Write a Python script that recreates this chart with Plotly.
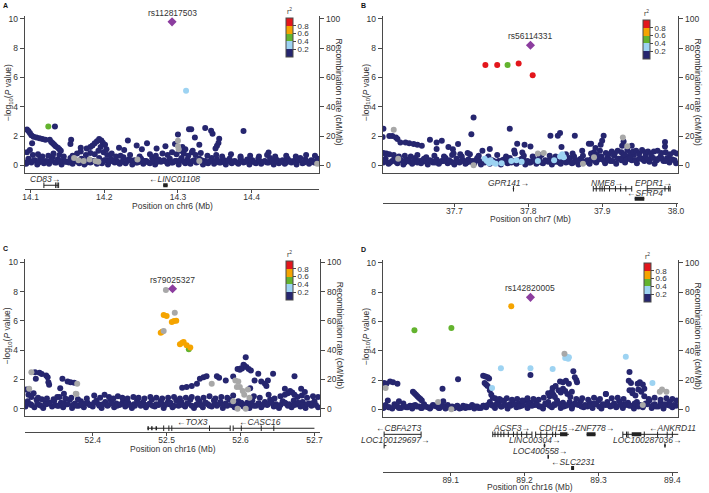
import plotly.graph_objects as go

W, H = 709, 493
FONT = "Liberation Sans, Arial, sans-serif"
INK = "#333333"
AXIS = "#4a4a4a"

NAVY, LBLUE, GREEN, ORANGE, RED = "#26266f", "#9dd3f2", "#63b32e", "#f5a400", "#e3161c"
PURPLE, GREY = "#8c3d9f", "#a8a8a8"

# ---------------- panel A : chr6 (positions in kb, values are -log10 P) ----------------
a_region = [14092, 14492]
a_ticks = [14.1, 14.2, 14.3, 14.4]
a_lead = ("rs112817503", 14292, 9.8)
a_band_kb = [14094, 14097, 14101, 14106, 14109, 14113, 14118, 14121, 14125, 14130, 14133, 14137,
             14142, 14145, 14149, 14154, 14157, 14161, 14166, 14169, 14173, 14178, 14181, 14185,
             14190, 14193, 14197, 14202, 14205, 14209, 14214, 14217, 14221, 14226, 14229, 14233,
             14238, 14241, 14245, 14250, 14253, 14257, 14262, 14265, 14269, 14274, 14277, 14281,
             14286, 14289, 14293, 14298, 14301, 14305, 14310, 14313, 14317, 14322, 14325, 14329,
             14334, 14337, 14341, 14346, 14349, 14353, 14358, 14361, 14365, 14370, 14373, 14377,
             14382, 14385, 14389, 14394, 14397, 14401, 14406, 14409, 14413, 14418, 14421, 14425,
             14430, 14433, 14437, 14442, 14445, 14449, 14454, 14457, 14461, 14466, 14469, 14473,
             14478, 14481, 14485, 14490]
a_band_p = [.1, .45, .2, .35, .05, .5, .15, .3, .1, .55, .2, .4, .05, .35, .25, .5, .1, .3, .15, .45,
            .05, .4, .2, .3, .1, .5, .15, .35, .05, .45, .2, .3, .1, .55, .15, .4, .05, .35, .2, .45,
            .1, .3, .15, .5, .05, .4, .25, .35, .1, .45, .2, .3, .05, .5, .15, .4, .1, .35, .2, .45,
            .05, .3, .15, .5, .1, .4, .2, .35, .05, .45, .15, .3, .1, .5, .2, .4, .05, .35, .15, .45,
            .1, .3, .2, .5, .05, .4, .15, .35, .1, .45, .2, .3, .05, .5, .15, .4, .1, .35, .2, .45]
a_fill_kb = [14096, 14103, 14111, 14116, 14123, 14128, 14135, 14140, 14147, 14152, 14159, 14164,
             14171, 14176, 14183, 14188, 14195, 14200, 14207, 14212, 14219, 14224, 14231, 14236,
             14243, 14248, 14255, 14260, 14267, 14272, 14279, 14284, 14291, 14296, 14303, 14308,
             14315, 14320, 14327, 14332, 14339, 14344, 14351, 14356, 14363, 14368, 14375, 14380,
             14387, 14392, 14399, 14404, 14411, 14416, 14423, 14428, 14435, 14440, 14447, 14452,
             14459, 14464, 14471, 14476, 14483, 14488]
a_fill_p = [.25, .3, .2, .3, .25, .35, .2, .3, .25, .2, .3, .25, .35, .2, .25, .3, .2, .35, .25, .3,
            .2, .25, .3, .35, .2, .25, .3, .2, .35, .25, .3, .25, .2, .3, .35, .25, .2, .3, .25, .35,
            .2, .3, .25, .2, .35, .3, .25, .2, .3, .25, .35, .2, .3, .25, .2, .3, .35, .25, .2, .3,
            .25, .35, .2, .25, .3, .2]
a_mid_kb = [14095, 14099, 14103, 14110, 14116, 14124, 14131, 14139, 14145, 14157, 14163, 14168,
            14175, 14181, 14187, 14192, 14199, 14204, 14210, 14216, 14222, 14235, 14248, 14262,
            14270, 14279, 14286, 14292, 14298, 14303, 14308, 14314, 14319, 14324, 14331, 14340,
            14352, 14360, 14372, 14385, 14398, 14410, 14421, 14432, 14447, 14460, 14474, 14486]
a_mid_p = [0.9, 1.05, 0.7, 0.75, 0.6, 0.65, 0.8, 0.7, 0.6, 0.65, 0.8, 0.95, 0.7, 0.85, 0.75, 1.0,
           0.9, 0.7, 0.8, 0.6, 0.65, 0.7, 0.6, 0.75, 0.65, 0.8, 0.7, 0.9, 0.75, 1.0, 0.8, 0.65,
           0.9, 0.7, 0.85, 0.65, 0.7, 0.6, 0.75, 0.6, 0.65, 0.6, 0.7, 0.6, 0.65, 0.6, 0.7, 0.65]
a_hi_kb = [14095, 14097, 14099, 14101, 14104, 14108, 14112, 14116, 14120, 14102, 14133, 14126,
           14128, 14130, 14132, 14134, 14137, 14139, 14141, 14155, 14154, 14168, 14176, 14181,
           14184, 14187, 14190, 14193, 14196, 14198, 14201, 14195, 14203, 14220, 14227, 14232,
           14244, 14251, 14258, 14271, 14283, 14300, 14315, 14318, 14323, 14329, 14337, 14345,
           14347, 14356, 14355, 14353, 14351, 14310, 14306, 14320, 14389, 14423, 14296]
a_hi_p = [2.45, 2.35, 2.2, 2.05, 1.95, 1.9, 1.85, 1.8, 1.75, 1.5, 2.65, 1.75, 1.6, 1.5, 1.4, 1.3,
          1.2, 1.1, 1.0, 1.75, 1.45, 1.2, 1.15, 1.25, 1.35, 1.5, 1.65, 1.8, 1.7, 1.55, 1.4, 1.25,
          1.1, 1.2, 1.05, 1.7, 1.35, 1.1, 1.5, 1.15, 1.3, 2.1, 2.47, 2.47, 1.9, 1.4, 2.55, 2.36,
          2.16, 1.81, 1.52, 1.34, 1.15, 1.1, 1.25, 1.0, 2.35, 0.88, 1.45]
a_lb_kb, a_lb_p = [14311], [5.1]
a_gr_kb, a_gr_p = [14124], [2.65]
a_grey_kb = [14300, 14300, 14301, 14159, 14165, 14172, 14180, 14188, 14192, 14245, 14329, 14489]
a_grey_p = [1.68, 1.3, 1.1, 0.5, 0.35, 0.3, 0.4, 0.3, 0.25, 0.4, 0.3, 0.1]
# genes: label, row, start, end, exon ticks, exon blocks, label position
a_genes = [("CD83→", 0, 14118, 14138, [14118, 14134, 14136, 14138], [], 14119),
           ("←LINC01108", 0, 14280, 14286, [], [(14280, 14286)], 14295)]

# ---------------- panel B : chr7 ----------------
b_region = [37603, 38003]
b_ticks = [37.7, 37.8, 37.9, 38.0]
b_lead = ("rs56114331", 37803, 8.2)
b_band_kb = [37604, 37607, 37611, 37616, 37619, 37623, 37628, 37631, 37635, 37640, 37643, 37647,
             37652, 37655, 37659, 37664, 37667, 37671, 37676, 37679, 37683, 37688, 37691, 37695,
             37700, 37703, 37707, 37712, 37715, 37719, 37724, 37727, 37731, 37736, 37739, 37743,
             37748, 37751, 37755, 37760, 37763, 37767, 37772, 37775, 37779, 37784, 37787, 37791,
             37796, 37799, 37803, 37808, 37811, 37815, 37820, 37823, 37827, 37832, 37835, 37839,
             37844, 37847, 37851, 37856, 37859, 37863, 37868, 37871, 37875, 37880, 37883, 37887,
             37892, 37895, 37899, 37904, 37907, 37911, 37916, 37919, 37923, 37928, 37931, 37935,
             37940, 37943, 37947, 37952, 37955, 37959, 37964, 37967, 37971, 37976, 37979, 37983,
             37988, 37991, 37995, 38000]
b_band_p = [.2, .45, .1, .3, .5, .15, .35, .05, .4, .25, .1, .5, .3, .15, .45, .05, .35, .2, .4, .1,
            .3, .5, .15, .25, .05, .45, .2, .35, .1, .4, .3, .15, .5, .05, .25, .45, .1, .35, .2, .3,
            .05, .4, .15, .5, .25, .1, .35, .45, .05, .3, .2, .4, .1, .5, .15, .35, .25, .05, .45, .3,
            .1, .4, .2, .5, .15, .3, .05, .45, .25, .35, .1, .55, .2, .4, .6, .15, .5, .3, .65, .1,
            .45, .55, .2, .6, .35, .7, .15, .5, .4, .65, .25, .55, .1, .45, .6, .3, .5, .2, .4, .15]
b_fill_kb = [37606, 37613, 37621, 37626, 37633, 37638, 37645, 37650, 37657, 37662, 37669, 37674,
             37681, 37686, 37693, 37698, 37705, 37710, 37717, 37722, 37729, 37734, 37741, 37746,
             37753, 37758, 37765, 37770, 37777, 37782, 37789, 37794, 37801, 37806, 37813, 37818,
             37825, 37830, 37837, 37842, 37849, 37854, 37861, 37866, 37873, 37878, 37885, 37890,
             37897, 37902, 37909, 37914, 37921, 37926, 37933, 37938, 37945, 37950, 37957, 37962,
             37969, 37974, 37981, 37986, 37993, 37998]
b_fill_p = [.3, .2, .25, .35, .2, .3, .25, .2, .35, .25, .3, .2, .25, .3, .35, .2, .25, .3, .2, .25,
            .35, .3, .2, .25, .3, .2, .35, .25, .2, .3, .25, .35, .2, .3, .25, .2, .3, .35, .25, .2,
            .3, .25, .2, .35, .3, .25, .4, .3, .45, .35, .4, .3, .45, .35, .4, .5, .35, .45, .3, .4,
            .5, .35, .45, .3, .4, .35]
b_mid_kb = [37604, 37608, 37612, 37618, 37625, 37633, 37641, 37650, 37662, 37673, 37686, 37697,
            37710, 37721, 37733, 37746, 37758, 37770, 37782, 37794, 37806, 37818, 37829, 37837,
            37851, 37862, 37874, 37885, 37889, 37893, 37897, 37905, 37909, 37913, 37917, 37921,
            37926, 37930, 37934, 37938, 37942, 37946, 37950, 37954, 37958, 37962, 37966, 37970,
            37975, 37980, 37986, 37992, 37997, 38001]
b_mid_p = [0.85, 0.8, 0.75, 0.7, 0.6, 0.65, 0.6, 0.7, 0.55, 0.65, 0.6, 0.7, 0.6, 0.75, 0.65, 0.6,
           0.7, 0.6, 0.8, 0.65, 0.6, 0.7, 0.65, 0.6, 0.75, 0.6, 0.65, 0.8, 0.9, 0.7, 1.0, 0.85,
           0.75, 0.95, 0.8, 1.0, 0.9, 0.75, 1.05, 0.85, 0.95, 1.0, 0.8, 1.05, 0.9, 0.95, 0.8, 0.95,
           1.0, 0.85, 0.9, 0.75, 0.9, 0.8]
b_hi_kb = [37604, 37603, 37612, 37616, 37621, 37623, 37627, 37634, 37639, 37645, 37650, 37656,
           37667, 37676, 37683, 37676, 37692, 37698, 37705, 37699, 37708, 37726, 37723, 37718,
           37738, 37748, 37775, 37785, 37795, 37803, 37781, 37792, 37830, 37840, 37843, 37845,
           37863, 37882, 37885, 37902, 37900, 37898, 37891, 37927, 37929, 37940, 37985, 37985,
           37860, 37873]
b_hi_p = [2.5, 1.93, 2.0, 2.0, 1.9, 1.8, 1.56, 1.56, 1.5, 1.45, 1.4, 1.34, 1.75, 1.56, 1.68, 1.11,
          1.25, 1.1, 1.45, 0.8, 0.75, 3.27, 2.13, 0.84, 1.0, 1.11, 2.5, 1.47, 1.4, 1.29, 1.02, 0.87,
          2.02, 2.02, 2.2, 1.25, 2.02, 1.47, 1.47, 2.02, 1.68, 1.4, 1.18, 1.34, 1.63, 1.34, 1.59,
          1.29, 0.8, 1.0]
b_lb_kb = [37741, 37744, 37747, 37749, 37752, 37756, 37764, 37777, 37784, 37791, 37813, 37835,
           37843, 37846, 37848]
b_lb_p = [0.45, 0.3, 0.15, 0.35, 0.2, 0.1, 0.15, 0.3, 0.35, 0.25, 0.3, 0.35, 0.6, 0.75, 0.55]
b_gr_kb, b_gr_p = [37772], [6.85]
b_rd_kb, b_rd_p = [37742, 37758, 37787, 37806], [6.85, 6.85, 6.95, 6.15]
b_grey_kb = [37618, 37624, 37813, 37821, 37874, 37889, 37928, 37934, 37726]
b_grey_p = [2.43, 0.45, 0.8, 0.85, 0.1, 0.55, 1.9, 1.3, 0.0]
b_genes = [("GPR141→", 0, 37779, 37781, [37780], [], 37773),
           ("NME8→", 0, 37888, 37940, [37888, 37892, 37897, 37900, 37903, 37910, 37918, 37925,
                                       37932, 37940], [], 37907),
           ("EPDR1→", 0, 37961, 37992, [37961, 37985, 37990, 37992], [], 37970),
           ("←SFRP4", 1, 37944, 37957, [], [(37944, 37957)], 37958)]

# ---------------- panel C : chr16 ----------------
c_region = [52308, 52708]
c_ticks = [52.4, 52.5, 52.6, 52.7]
c_lead = ("rs79025327", 52508, 8.19)
c_band_kb = [52309, 52312, 52316, 52321, 52324, 52328, 52333, 52336, 52340, 52345, 52348, 52352,
             52357, 52360, 52364, 52369, 52372, 52376, 52381, 52384, 52388, 52393, 52396, 52400,
             52405, 52408, 52412, 52417, 52420, 52424, 52429, 52432, 52436, 52441, 52444, 52448,
             52453, 52456, 52460, 52465, 52468, 52472, 52477, 52480, 52484, 52489, 52492, 52496,
             52501, 52504, 52508, 52513, 52516, 52520, 52525, 52528, 52532, 52537, 52540, 52544,
             52549, 52552, 52556, 52561, 52564, 52568, 52573, 52576, 52580, 52585, 52588, 52592,
             52597, 52600, 52604, 52609, 52612, 52616, 52621, 52624, 52628, 52633, 52636, 52640,
             52645, 52648, 52652, 52657, 52660, 52664, 52669, 52672, 52676, 52681, 52684, 52688,
             52693, 52696, 52700, 52705]
c_band_p = [.15, .5, .3, .1, .6, .25, .05, .45, .35, .15, .55, .2, .4, .1, .3, .6, .05, .35, .2, .5,
            .1, .4, .25, .15, .55, .3, .05, .45, .2, .6, .1, .35, .25, .5, .15, .4, .05, .3, .55, .2,
            .45, .1, .35, .6, .15, .25, .5, .05, .4, .3, .1, .55, .2, .45, .15, .35, .6, .05, .25, .5,
            .1, .4, .3, .15, .55, .2, .45, .05, .35, .6, .25, .1, .5, .3, .15, .4, .05, .55, .2, .35,
            .1, .45, .25, .6, .15, .3, .05, .5, .4, .2, .1, .55, .3, .15, .45, .05, .35, .2, .5, .1]
c_fill_kb = [52310, 52317, 52325, 52330, 52337, 52342, 52349, 52354, 52361, 52366, 52373, 52378,
             52385, 52390, 52397, 52402, 52409, 52414, 52421, 52426, 52433, 52438, 52445, 52450,
             52457, 52462, 52469, 52474, 52481, 52486, 52493, 52498, 52505, 52510, 52517, 52522,
             52529, 52534, 52541, 52546, 52553, 52558, 52565, 52570, 52577, 52582, 52589, 52594,
             52601, 52606, 52613, 52618, 52625, 52630, 52637, 52642, 52649, 52654, 52661, 52666,
             52673, 52678, 52685, 52690, 52697, 52702]
c_fill_p = [.3, .25, .35, .2, .3, .4, .25, .2, .35, .3, .25, .2, .3, .35, .25, .4, .2, .3, .25, .35,
            .2, .3, .4, .25, .2, .35, .3, .25, .2, .3, .35, .25, .4, .2, .3, .25, .35, .2, .3, .25,
            .4, .2, .35, .3, .25, .2, .35, .3, .4, .25, .3, .2, .35, .25, .3, .4, .2, .25, .35, .3,
            .25, .4, .2, .3, .35, .25]
c_mid_kb = [52310, 52313, 52317, 52320, 52326, 52331, 52338, 52347, 52355, 52363, 52371, 52380,
            52392, 52402, 52410, 52416, 52422, 52428, 52434, 52440, 52447, 52455, 52462, 52470,
            52478, 52486, 52494, 52502, 52510, 52518, 52526, 52534, 52542, 52550, 52558, 52566,
            52574, 52582, 52590, 52618, 52626, 52638, 52646, 52654, 52660, 52664, 52667, 52670,
            52673, 52677, 52683, 52690, 52698, 52705]
c_mid_p = [1.3, 0.95, 0.8, 1.05, 0.75, 0.65, 0.7, 0.65, 0.8, 0.7, 0.75, 0.65, 0.7, 0.9, 0.75, 0.95,
           0.8, 0.7, 0.85, 0.75, 0.7, 0.8, 0.75, 0.7, 0.8, 0.75, 0.7, 0.75, 0.8, 0.7, 0.75, 0.8,
           0.7, 0.75, 0.85, 0.7, 0.8, 0.75, 0.9, 0.85, 0.75, 0.95, 0.7, 0.85, 0.95, 1.05, 1.2, 1.1,
           0.95, 0.8, 0.9, 0.75, 0.85, 0.8]
c_hi_kb = [52322, 52328, 52323, 52337, 52339, 52340, 52341, 52359, 52366, 52370, 52375, 52356,
           52361, 52352, 52521, 52527, 52534, 52541, 52545, 52550, 52554, 52568, 52571, 52580,
           52613, 52624, 52619, 52628, 52633, 52637, 52635, 52644, 52660, 52673, 52682, 52687,
           52596, 52599, 52602, 52605, 52608, 52611, 52614, 52604, 52607, 52600, 52590, 52331, 52313]
c_hi_p = [2.48, 2.45, 2.04, 2.27, 2.15, 1.81, 1.63, 2.04, 1.86, 1.81, 1.77, 1.4, 1.02, 0.79, 1.43,
          1.47, 1.54, 1.7, 2.04, 2.15, 2.22, 2.22, 2.11, 1.93, 1.4, 2.38, 1.93, 1.86, 1.7, 1.93,
          1.54, 2.38, 1.36, 2.22, 1.36, 1.13, 2.7, 2.65, 2.75, 2.95, 2.85, 2.7, 2.6, 3.0, 3.51,
          2.75, 2.2, 2.37, 1.3]
c_gr_kb, c_gr_p = [52530], [4.06]
c_or_kb = [52496, 52500, 52507, 52510, 52513, 52492, 52494, 52518, 52521, 52523, 52527, 52532]
c_or_p = [6.39, 6.32, 5.91, 5.98, 6.0, 5.19, 5.25, 4.4, 4.5, 4.55, 4.33, 4.18]
c_grey_kb = [52317, 52379, 52377, 52314, 52499, 52511, 52496, 52561, 52593, 52597, 52599, 52595,
             52610, 52605, 52596, 52607, 52603, 52590, 52612, 52378]
c_grey_p = [2.49, 1.7, 1.02, 1.36, 8.1, 6.55, 5.3, 1.7, 1.93, 1.86, 1.47, 1.47, 1.31, 0.95, 0.0,
            0.0, 1.2, 0.5, 0.75, 1.0]
c_genes = [("←TOX3", 0, 52474, 52586, [52496, 52503, 52507, 52558, 52586],
            [(52474, 52476), (52479, 52481), (52485, 52487)], 52535),
           ("←CASC16", 0, 52590, 52700, [52590, 52601, 52628, 52645], [], 52626)]

# ---------------- panel D : chr16 ----------------
d_region = [89008, 89408]
d_ticks = [89.1, 89.2, 89.3, 89.4]
d_lead = ("rs142820005", 89208, 7.65)
d_band_kb = [89009, 89012, 89016, 89021, 89024, 89028, 89033, 89036, 89040, 89045, 89048, 89052,
             89057, 89060, 89064, 89069, 89072, 89076, 89081, 89084, 89088, 89093, 89096, 89100,
             89105, 89108, 89112, 89117, 89120, 89124, 89129, 89132, 89136, 89141, 89144, 89148,
             89153, 89156, 89160, 89165, 89168, 89172, 89177, 89180, 89184, 89189, 89192, 89196,
             89201, 89204, 89208, 89213, 89216, 89220, 89225, 89228, 89232, 89237, 89240, 89244,
             89249, 89252, 89256, 89261, 89264, 89268, 89273, 89276, 89280, 89285, 89288, 89292,
             89297, 89300, 89304, 89309, 89312, 89316, 89321, 89324, 89328, 89333, 89336, 89340,
             89345, 89348, 89352, 89357, 89360, 89364, 89369, 89372, 89376, 89381, 89384, 89388,
             89393, 89396, 89400, 89405]
d_band_p = [.1, .3, .15, .05, .35, .2, .1, .4, .15, .25, .05, .3, .2, .1, .35, .15, .05, .3, .2, .1,
            .25, .05, .3, .15, .1, .2, .05, .25, .1, .15, .3, .05, .2, .1, .25, .15, .5,
            .3, .1, .45, .2, .55, .05, .35, .5, .15, .4, .25, .6, .1, .45, .3, .55, .2, .05, .4, .5,
            .15, .35, .6, .1, .45, .25, .5, .05, .4, .3, .55, .15, .2, .45, .1, .35, .6, .05, .3, .5,
            .2, .4, .15, .55, .1, .35, .45, .25, .05, .5, .3, .15, .4, .6, .1, .35, .2, .45, .05, .3,
            .5, .15, .25]
d_fill_kb = [89010, 89017, 89025, 89030, 89037, 89042, 89049, 89054, 89061, 89066, 89073, 89078,
             89085, 89090, 89097, 89102, 89109, 89114, 89121, 89126, 89133, 89138, 89145, 89150,
             89157, 89162, 89169, 89174, 89181, 89186, 89193, 89198, 89205, 89210, 89217, 89222,
             89229, 89234, 89241, 89246, 89253, 89258, 89265, 89270, 89277, 89282, 89289, 89294,
             89301, 89306, 89313, 89318, 89325, 89330, 89337, 89342, 89349, 89354, 89361, 89366,
             89373, 89378, 89385, 89390, 89397, 89402]
d_fill_p = [.2, .15, .25, .1, .2, .15, .25, .2, .1, .2, .15, .25, .1, .2, .15, .2, .25, .1, .2, .15,
            .2, .1, .25, .3, .25, .35, .2, .3, .25, .35, .2, .3, .4, .25, .3, .2, .35, .25, .3, .4,
            .2, .3, .25, .35, .2, .3, .25, .4, .2, .35, .3, .25, .2, .35, .3, .25, .4, .2, .3, .35,
            .25, .2, .3, .35, .25, .3]
d_mid_kb = [89015, 89030, 89049, 89051, 89053, 89055, 89057, 89059, 89061, 89090, 89160, 89163,
            89166, 89170, 89176, 89183, 89190, 89197, 89204, 89212, 89219, 89226, 89232, 89234,
            89237, 89239, 89241, 89246, 89249, 89252, 89255, 89258, 89262, 89270, 89278, 89286,
            89294, 89302, 89310, 89318, 89326, 89334, 89342, 89346, 89350, 89354, 89358, 89362,
            89368, 89376, 89384, 89392, 89400, 89406]
d_mid_p = [0.6, 0.55, 1.2, 1.1, 1.0, 0.9, 0.8, 0.7, 0.6, 0.55, 0.75, 0.65, 0.7, 0.6, 0.75, 0.65,
           0.7, 0.6, 0.75, 0.7, 0.65, 0.8, 1.1, 0.9, 1.2, 1.0, 0.85, 1.3, 1.15, 1.4, 1.25, 1.05,
           0.85, 0.7, 0.75, 0.65, 0.8, 0.7, 1.05, 0.75, 0.8, 0.7, 1.3, 1.1, 0.95, 1.35, 1.2, 0.9,
           0.7, 0.8, 0.65, 0.75, 0.7, 0.6]
d_hi_kb = [89010, 89013, 89018, 89022, 89028, 89089, 89110, 89144, 89147, 89150, 89152, 89146,
           89148, 89150, 89153, 89155, 89157, 89208, 89266, 89268, 89270, 89271, 89264, 89342,
           89341, 89344, 89346, 89353, 89356, 89360, 89362, 89310, 89238, 89242, 89248, 89252,
           89256, 89260]
d_hi_p = [1.8, 1.75, 1.9, 1.85, 1.75, 1.4, 2.05, 2.3, 2.25, 2.2, 2.1, 1.8, 1.7, 1.6, 1.3, 1.0, 0.8,
          2.35, 2.6, 2.2, 2.0, 1.85, 1.2, 2.55, 1.95, 1.8, 1.3, 1.75, 1.85, 1.7, 1.4, 1.05, 1.45,
          1.6, 1.9, 1.85, 1.95, 1.75]
d_lb_kb = [89156, 89168, 89208, 89238, 89255, 89257, 89259, 89260, 89337, 89373]
d_lb_p = [1.45, 2.8, 2.8, 2.75, 3.5, 3.6, 3.45, 3.55, 3.6, 1.8]
d_gr_kb, d_gr_p = [89051, 89101], [5.4, 5.55]
d_or_kb, d_or_p = [89182], [7.05]
d_grey_kb = [89012, 89083, 89101, 89254, 89360, 89383, 89386, 89392]
d_grey_p = [1.45, 0.5, 0.0, 3.8, 0.3, 1.2, 1.35, 1.2]
d_genes = [("←CBFA2T3", 0, 89010, 89060, [89010, 89060], [], 89030),
           ("ACSF3→", 0, 89157, 89210, [89157, 89160, 89164, 89168, 89172, 89178, 89185, 89190,
                                        89196, 89203, 89210], [], 89182),
           ("CDH15→", 0, 89215, 89260, [89215, 89222, 89230, 89238, 89242],
            [(89248, 89258)], 89244),
           ("ZNF778→", 0, 89284, 89296, [], [(89284, 89296)], 89294),
           ("←ANKRD11", 0, 89333, 89412, [89333, 89338, 89340, 89362, 89380, 89393, 89400],
            [(89345, 89358)], 89400),
           ("LOC100129697→", 1, 89010, 89013, [89010], [], 89025),
           ("LINC00304→", 1, 89226, 89228, [], [(89226, 89228)], 89214),
           ("LOC100287036→", 1, 89389, 89391, [], [(89389, 89391)], 89366),
           ("LOC400558→", 2, 89232, 89233, [], [(89231, 89233)], 89221),
           ("←SLC2231", 3, 89263, 89267, [], [(89263, 89267)], 89266)]

panels = [
    dict(letter="A", chrom="chr6", region=a_region, ticks=a_ticks, lead=a_lead, genes=a_genes,
         r2={0.1: (a_band_kb + a_fill_kb + a_mid_kb + a_hi_kb,
                   a_band_p + a_fill_p + a_mid_p + a_hi_p),
             0.3: (a_lb_kb, a_lb_p), 0.5: (a_gr_kb, a_gr_p)},
         grey=(a_grey_kb, a_grey_p)),
    dict(letter="B", chrom="chr7", region=b_region, ticks=b_ticks, lead=b_lead, genes=b_genes,
         r2={0.1: (b_band_kb + b_fill_kb + b_mid_kb + b_hi_kb,
                   b_band_p + b_fill_p + b_mid_p + b_hi_p),
             0.3: (b_lb_kb, b_lb_p), 0.5: (b_gr_kb, b_gr_p), 0.9: (b_rd_kb, b_rd_p)},
         grey=(b_grey_kb, b_grey_p)),
    dict(letter="C", chrom="chr16", region=c_region, ticks=c_ticks, lead=c_lead, genes=c_genes,
         r2={0.1: (c_band_kb + c_fill_kb + c_mid_kb + c_hi_kb,
                   c_band_p + c_fill_p + c_mid_p + c_hi_p),
             0.5: (c_gr_kb, c_gr_p), 0.7: (c_or_kb, c_or_p)},
         grey=(c_grey_kb, c_grey_p)),
    dict(letter="D", chrom="chr16", region=d_region, ticks=d_ticks, lead=d_lead, genes=d_genes,
         r2={0.1: (d_band_kb + d_fill_kb + d_mid_kb + d_hi_kb,
                   d_band_p + d_fill_p + d_mid_p + d_hi_p),
             0.3: (d_lb_kb, d_lb_p), 0.5: (d_gr_kb, d_gr_p), 0.7: (d_or_kb, d_or_p)},
         grey=(d_grey_kb, d_grey_p)),
]

# pixel layout of each panel (left, right, y of P=0, gene axis line, gene row spacing,
# axis-title offset, colour key corner)
geom = {
    "A": dict(left=23, right=321, zero=164, axis=188, rows=1, sp=11, tt=16.5, cb=(287, 16)),
    "B": dict(left=385, right=684, zero=164, axis=201.5, rows=2, sp=10, tt=16.5, cb=(648, 18)),
    "C": dict(left=23, right=322, zero=408.3, axis=432, rows=1, sp=11, tt=16.5, cb=(287, 260)),
    "D": dict(left=385, right=684, zero=409, axis=472, rows=4, sp=11.3, tt=14.5, cb=(649, 262)),
}
PX_PER_UNIT = 14.7
Y_RANGE = [-0.5, 10.2]
DOT = 6

r2_scale = [[0, NAVY], [0.2, NAVY], [0.2, LBLUE], [0.4, LBLUE], [0.4, GREEN], [0.6, GREEN],
            [0.6, ORANGE], [0.8, ORANGE], [0.8, RED], [1, RED]]

tickfont = dict(family=FONT, size=8.5, color=INK)


def px_x(px):
    return px / W


def px_y(py):
    return 1 - py / H


def note(text, x, y, xref="paper", yref="paper", **kw):
    d = dict(text=text, x=x, y=y, xref=xref, yref=yref, showarrow=False,
             xanchor="center", yanchor="middle", font=dict(size=8.5, color=INK))
    d.update(kw)
    return d


fig = go.Figure()
layout = dict(width=W, height=H, margin=dict(l=0, r=0, t=0, b=0), paper_bgcolor="white",
              plot_bgcolor="white", showlegend=False, hovermode=False, font=dict(family=FONT))
annotations = []

for i, p in enumerate(panels):
    g = geom[p["letter"]]
    nxs, nxg = 2 * i + 1, 2 * i + 2
    nys, nyr, nyg = 3 * i + 1, 3 * i + 2, 3 * i + 3
    ref = lambda a, n: a if n == 1 else f"{a}{n}"
    xs, xg, ys, yr, yg = ref("x", nxs), ref("x", nxg), ref("y", nys), ref("y", nyr), ref("y", nyg)
    xrange = [p["region"][0] / 1000, p["region"][1] / 1000]

    top = g["zero"] - Y_RANGE[1] * PX_PER_UNIT
    bottom = g["zero"] - Y_RANGE[0] * PX_PER_UNIT
    xdom = [px_x(g["left"]), px_x(g["right"])]

    layout["xaxis" if nxs == 1 else f"xaxis{nxs}"] = dict(
        domain=xdom, range=xrange, anchor=ys, showline=True, linecolor=AXIS, linewidth=1,
        ticks="", showticklabels=False, showgrid=False, zeroline=False)
    layout["yaxis" if nys == 1 else f"yaxis{nys}"] = dict(
        domain=[px_y(bottom), px_y(top)], range=Y_RANGE, anchor=xs, showline=True,
        linecolor=AXIS, linewidth=1, ticks="outside", ticklen=4, tickcolor=AXIS,
        tickvals=[0, 2, 4, 6, 8, 10], tickfont=tickfont, showgrid=False, zeroline=False)
    layout[f"yaxis{nyr}"] = dict(
        overlaying=ys, side="right", anchor=xs, range=[v * 10 for v in Y_RANGE], showline=True,
        linecolor=AXIS, linewidth=1, ticks="outside", ticklen=4, tickcolor=AXIS,
        tickvals=[0, 20, 40, 60, 80, 100], tickfont=tickfont, showgrid=False, zeroline=False)

    # gene track
    n, sp = g["rows"], g["sp"]
    lo = -(n - 1) - 4 / sp
    hi = lo + (g["axis"] - bottom - 1) / sp
    layout[f"xaxis{nxg}"] = dict(
        domain=xdom, range=xrange, anchor=yg, showline=True, linecolor=AXIS, linewidth=1,
        ticks="outside", ticklen=3, tickcolor=AXIS, tickmode="array", tickvals=p["ticks"],
        ticktext=[f"{t:.1f}" for t in p["ticks"]], ticklabelstandoff=-3, tickfont=tickfont,
        showgrid=False, zeroline=False)
    layout[f"yaxis{nyg}"] = dict(domain=[px_y(g["axis"]), px_y(bottom + 1)], range=[lo, hi],
                                 anchor=xg, visible=False)

    # empty recombination-rate layer keeps the right axis attached
    fig.add_trace(go.Scatter(x=[], y=[], xaxis=xs, yaxis=yr, mode="lines"))

    # association points coloured by r2
    px_all, py_all, col = [], [], []
    for r2 in sorted(p["r2"]):
        kb, pv = p["r2"][r2]
        for k, v in zip(kb, pv):
            px_all.append(k / 1000)
            py_all.append(v)
            col.append(r2)
    cbx, cby = g["cb"]
    fig.add_trace(go.Scatter(
        x=px_all, y=py_all, xaxis=xs, yaxis=ys, mode="markers",
        marker=dict(size=DOT, color=col, colorscale=r2_scale, cmin=0, cmax=1, showscale=True,
                    line=dict(width=0),
                    colorbar=dict(x=px_x(cbx), xanchor="left", y=px_y(cby), yanchor="top",
                                  thickness=7, thicknessmode="pixels", len=39, lenmode="pixels",
                                  xpad=0, ypad=0, outlinewidth=1, outlinecolor=AXIS,
                                  tickmode="array", tickvals=[0.2, 0.4, 0.6, 0.8],
                                  ticks="outside", ticklen=3, tickcolor=AXIS,
                                  tickfont=dict(family=FONT, size=8, color=INK)))))
    gk, gp = p["grey"]
    fig.add_trace(go.Scatter(x=[k / 1000 for k in gk], y=gp, xaxis=xs, yaxis=ys, mode="markers",
                             marker=dict(size=DOT, color=GREY)))
    lead_id, lead_kb, lead_p = p["lead"]
    fig.add_trace(go.Scatter(x=[lead_kb / 1000], y=[lead_p], xaxis=xs, yaxis=ys, mode="markers",
                             marker=dict(size=7, symbol="diamond", color=PURPLE)))
    annotations.append(note(lead_id, lead_kb / 1000, lead_p, xs, ys, yshift=9))
    annotations.append(note("r<sup>2</sup>", px_x(cbx + 3.5), px_y(cby - 1), yanchor="bottom",
                            font=dict(size=7, color=INK)))

    # genes
    lx, ly, tx, ty, bx, by = [], [], [], [], [], []
    for label, row, s, e, ticks, blocks, lab in p["genes"]:
        lx += [s / 1000, e / 1000, None]
        ly += [-row, -row, None]
        tx += [t / 1000 for t in ticks]
        ty += [-row] * len(ticks)
        for bs, be in blocks:
            bx += [bs / 1000, be / 1000, None]
            by += [-row, -row, None]
        annotations.append(note(f"<i>{label}</i>", lab / 1000, -row, xg, yg,
                                yanchor="bottom", yshift=-1))
    fig.add_trace(go.Scatter(x=lx, y=ly, xaxis=xg, yaxis=yg, mode="lines",
                             line=dict(color="#222222", width=1)))
    fig.add_trace(go.Scatter(x=tx, y=ty, xaxis=xg, yaxis=yg, mode="markers",
                             marker=dict(symbol="line-ns-open", size=4, color="#222222",
                                         line=dict(color="#222222", width=1))))
    fig.add_trace(go.Scatter(x=bx, y=by, xaxis=xg, yaxis=yg, mode="lines",
                             line=dict(color="#222222", width=4)))

    # titles
    cx = (g["left"] + g["right"]) / 2
    annotations.append(note(f"Position on {p['chrom']} (Mb)", px_x(cx),
                            px_y(g["axis"] + g["tt"])))
    ymid = g["zero"] - 5 * PX_PER_UNIT
    annotations.append(note("\u2212log<sub>10</sub>(<i>P</i> value)", px_x(g["left"] - 17),
                            px_y(ymid), textangle=-90))
    annotations.append(note("Recombination rate (cM/Mb)", px_x(g["right"] + 19.5),
                            px_y(ymid), textangle=90))
    annotations.append(note(f"<b>{p['letter']}</b>", px_x(g["left"] - 24), px_y(top - 16),
                            xanchor="left", yanchor="top", font=dict(size=7, color="#111111")))

layout["annotations"] = annotations
fig.update_layout(**layout)
fig.write_html("out.html", config={"displayModeBar": False},
               post_script="document.body.style.margin='0px';")
